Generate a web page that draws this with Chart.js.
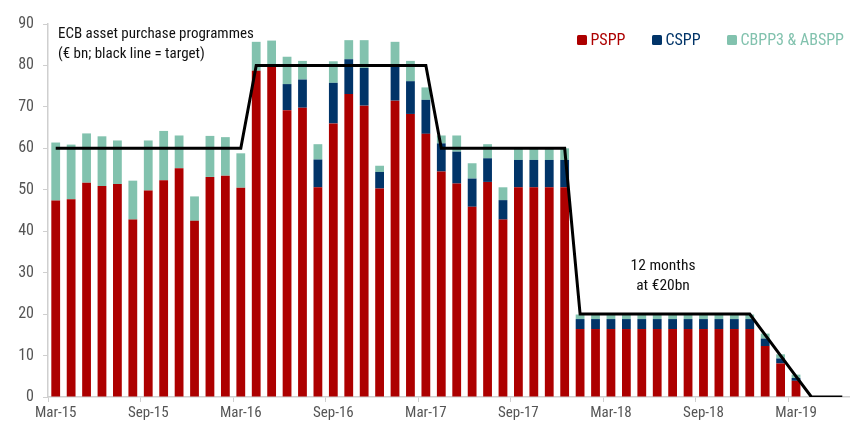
<!DOCTYPE html>
<html>
<head>
<meta charset="utf-8">
<script src="https://cdn.jsdelivr.net/npm/chart.js@4/dist/chart.umd.min.js"></script>
<style>
  html, body { margin: 0; padding: 0; background: #fff; }
  #wrap { position: relative; width: 850px; height: 425px; }
</style>
</head>
<body>
<div id="wrap"><canvas id="ecbChart"></canvas></div>
<script>
// months Mar-15 .. Jun-19
const months = ['Mar-15','Apr-15','May-15','Jun-15','Jul-15','Aug-15','Sep-15','Oct-15','Nov-15','Dec-15',
  'Jan-16','Feb-16','Mar-16','Apr-16','May-16','Jun-16','Jul-16','Aug-16','Sep-16','Oct-16','Nov-16','Dec-16',
  'Jan-17','Feb-17','Mar-17','Apr-17','May-17','Jun-17','Jul-17','Aug-17','Sep-17','Oct-17','Nov-17','Dec-17',
  'Jan-18','Feb-18','Mar-18','Apr-18','May-18','Jun-18','Jul-18','Aug-18','Sep-18','Oct-18','Nov-18','Dec-18',
  'Jan-19','Feb-19','Mar-19','Apr-19','May-19','Jun-19'];

// € bn per month
const pspp = [47.4, 47.7, 51.7, 50.9, 51.4, 42.8, 49.8, 52.3, 55.2, 42.5,
  53.1, 53.4, 50.5, 78.7, 79.8, 69.2, 69.8, 50.6, 66.0, 73.1, 70.3, 50.3,
  71.5, 68.3, 63.5, 54.4, 51.5, 45.9, 51.9, 42.8, 50.6, 50.6, 50.6, 50.6,
  16.4, 16.4, 16.4, 16.4, 16.4, 16.4, 16.4, 16.4, 16.4, 16.4, 16.4, 16.4,
  12.3, 8.1, 3.9, null, null, null];
const cspp = [0, 0, 0, 0, 0, 0, 0, 0, 0, 0,
  0, 0, 0, 0, 0, 6.3, 6.8, 6.7, 9.8, 8.4, 9.1, 4.0,
  8.4, 7.9, 8.2, 6.8, 7.7, 6.8, 5.7, 4.7, 6.6, 6.6, 6.6, 6.6,
  2.4, 2.4, 2.4, 2.4, 2.4, 2.4, 2.4, 2.4, 2.4, 2.4, 2.4, 2.4,
  1.8, 1.2, 0.7, null, null, null];
const cbppAbs = [14.0, 13.2, 11.9, 12.0, 10.5, 9.4, 12.1, 11.9, 7.9, 5.9,
  9.9, 9.3, 8.3, 7.0, 6.2, 6.6, 4.5, 3.7, 5.2, 4.6, 6.7, 1.5,
  5.8, 4.9, 3.0, 1.9, 3.9, 3.7, 3.4, 3.1, 2.8, 2.8, 2.8, 2.8,
  1.1, 1.1, 1.1, 1.1, 1.1, 1.1, 1.1, 1.1, 1.1, 1.1, 1.1, 1.1,
  1.2, 1.0, 0.8, null, null, null];
const target = [60, 60, 60, 60, 60, 60, 60, 60, 60, 60,
  60, 60, 60, 80, 80, 80, 80, 80, 80, 80, 80, 80,
  80, 80, 80, 60, 60, 60, 60, 60, 60, 60, 60, 60,
  20, 20, 20, 20, 20, 20, 20, 20, 20, 20, 20, 20,
  15, 10, 5, 0, 0, 0];
const yTicks = [0, 10, 20, 30, 40, 50, 60, 70, 80, 90];

const FONT = '"Roboto Condensed", Roboto, sans-serif';
const RED = '#ad0000';
const NAVY = '#013468';
const GREEN = '#82c2ae';
const AXIS = '#cfcfcf';

// legend + text notes
const notesPlugin = {
  id: 'notes',
  afterDraw(chart) {
    const ctx = chart.ctx;
    ctx.save();
    ctx.textBaseline = 'middle';
    ctx.font = '15px ' + FONT;
    ctx.fillStyle = '#111';
    ctx.textAlign = 'left';
    ctx.fillText('ECB asset purchase programmes', 58, 34);
    ctx.fillText('(\u20ac bn; black line = target)', 58, 54);

    ctx.font = '15.5px ' + FONT;
    ctx.textAlign = 'center';
    ctx.fillText('12 months', 663, 266);
    ctx.fillText('at \u20ac20bn', 663, 286);

    const items = [
      { text: 'PSPP', color: RED, x: 577 },
      { text: 'CSPP', color: NAVY, x: 652 },
      { text: 'CBPP3 & ABSPP', color: GREEN, x: 727 }
    ];
    ctx.font = '16px ' + FONT;
    ctx.textAlign = 'left';
    items.forEach(function (it) {
      ctx.fillStyle = it.color;
      ctx.beginPath();
      ctx.roundRect(it.x, 35, 10, 10, 1.5);
      ctx.fill();
      ctx.fillText(it.text, it.x + 13.5, 41);
    });
    ctx.restore();
  }
};

const ctx = document.getElementById('ecbChart').getContext('2d');
new Chart(ctx, {
  type: 'bar',
  data: {
    labels: months,
    datasets: [
      { label: 'target', type: 'line', data: target, stack: 'target', order: 0,
        borderColor: '#000', borderWidth: 3, pointRadius: 0, tension: 0, fill: false },
      { label: 'PSPP', data: pspp, backgroundColor: RED, stack: 'app', order: 1 },
      { label: 'CSPP', data: cspp, backgroundColor: NAVY, stack: 'app', order: 1 },
      { label: 'CBPP3 & ABSPP', data: cbppAbs, backgroundColor: GREEN, stack: 'app', order: 1 }
    ]
  },
  options: {
    responsive: true,
    maintainAspectRatio: false,
    animation: false,
    layout: { padding: { top: 24, right: 0, left: 0, bottom: 0 } },
    datasets: { bar: { categoryPercentage: 1, barPercentage: 0.57 } },
    plugins: { legend: { display: false }, tooltip: { enabled: false } },
    scales: {
      x: {
        stacked: true,
        offset: true,
        border: { display: true, color: AXIS, width: 1.5 },
        grid: {
          offset: true,
          drawOnChartArea: false,
          drawTicks: true,
          tickLength: 5,
          color: function (c) { return c.index % 6 === 0 ? AXIS : 'rgba(0,0,0,0)'; }
        },
        ticks: {
          autoSkip: false,
          maxRotation: 0,
          padding: 2,
          color: '#555',
          font: { family: FONT, size: 15 },
          callback: function (v, i) { return i % 6 === 0 ? months[i] : ''; }
        },
        afterFit: function (s) { s.height = 28; }
      },
      y: {
        stacked: true,
        min: 0,
        max: 90,
        border: { display: true, color: AXIS, width: 1.5 },
        grid: { drawOnChartArea: false, drawTicks: true, tickLength: 5, color: AXIS },
        afterBuildTicks: function (s) { s.ticks = yTicks.map(function (v) { return { value: v }; }); },
        ticks: {
          padding: 9,
          color: '#555',
          font: { family: FONT, size: 16 }
        },
        afterFit: function (s) { s.width = 48; }
      }
    }
  },
  plugins: [notesPlugin]
});
</script>
</body>
</html>
